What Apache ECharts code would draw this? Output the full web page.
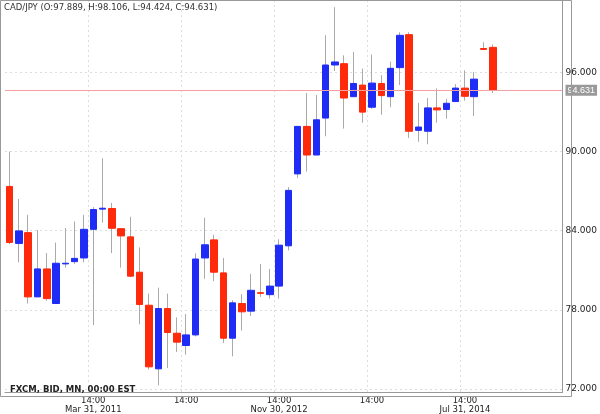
<!DOCTYPE html>
<html><head><meta charset="utf-8">
<script src="https://cdn.jsdelivr.net/npm/echarts@6/dist/echarts.min.js"></script>
<style>html,body{margin:0;padding:0;background:#fff}#c{width:600px;height:414px}</style>
</head><body><div id="c"></div>
<script>
// monthly CAD/JPY, May 2010 .. Sep 2014 : [open, close, low, high]
var ohlc = [
  [87.35,83.10,82.97,90.00],[83.03,83.98,81.60,86.40],[83.85,78.98,78.48,85.20],[78.98,81.10,78.98,84.05],
  [81.10,78.85,78.70,82.30],[78.48,81.53,78.48,83.10],[81.48,81.53,81.20,84.20],[81.65,81.90,81.48,84.70],
  [81.93,84.10,81.60,85.20],[84.10,85.60,76.85,85.78],[85.63,85.70,84.60,89.48],[85.68,84.18,82.30,86.10],
  [84.15,83.60,81.20,84.20],[83.53,80.55,80.48,85.05],[80.85,78.40,76.90,82.73],[78.35,73.68,73.48,79.23],
  [73.53,78.10,72.28,79.68],[78.10,76.28,73.60,79.23],[76.23,75.55,74.80,77.43],[75.30,76.10,74.60,77.68],
  [76.10,81.85,75.98,82.28],[81.93,82.93,80.35,84.98],[83.30,80.85,80.18,83.68],[80.80,75.85,75.48,81.93],
  [75.85,78.53,74.48,78.73],[78.48,77.85,76.43,79.18],[77.90,79.48,77.53,80.73],[79.30,79.25,78.98,81.48],
  [79.15,79.80,78.85,81.10],[79.80,82.90,78.85,83.35],[82.85,87.05,82.50,87.30],[88.30,91.90,88.00,91.90],
  [91.90,89.73,88.48,94.43],[89.73,92.40,89.73,94.28],[92.53,96.55,91.15,98.80],[96.55,96.78,96.10,100.93],
  [96.65,94.05,91.73,97.28],[94.15,95.15,94.15,97.55],[95.03,92.98,92.18,96.28],[93.35,95.18,93.23,97.35],
  [95.15,94.23,92.78,95.78],[94.15,96.30,93.35,96.80],[96.35,98.80,95.03,99.03],[98.85,91.53,91.03,99.03],
  [91.60,91.85,90.73,93.68],[91.53,93.30,90.55,94.05],[93.30,93.15,92.18,94.78],[93.18,93.65,92.48,93.98],
  [93.78,94.80,93.78,95.10],[94.80,94.18,93.85,96.15],[94.15,95.48,92.68,96.03],[97.80,97.73,97.73,98.28],
  [97.889,94.631,94.424,98.106]
];
var dateLabels = {9: 'Mar 31, 2011', 29: 'Nov 30, 2012', 49: 'Jul 31, 2014'};
var priceTicks = [72, 78, 84, 90, 96];
var lastClose = 94.631;
var nCats = 60;

var cats = [];
for (var i = 0; i < nCats; i++) cats.push(String(i));
var isTick = function (i) { return i >= 9 && i <= 55 && (i - 9) % 10 === 0; };

var wicks = ohlc.map(function (d) { return [d[2], d[3], d[2], d[3]]; });
var bodies = ohlc.map(function (d) {
  return [d[0], d[1], Math.min(d[0], d[1]), Math.max(d[0], d[1])];
});

var chart = echarts.init(document.getElementById('c'));
chart.setOption({
  animation: false,
  grid: {left: 5, right: 28, top: 0, bottom: 18, show: false},
  xAxis: {
    type: 'category', data: cats, boundaryGap: true,
    axisLine: {lineStyle: {color: '#999'}},
    axisTick: {show: false},
    axisLabel: {
      interval: function (i) { return isTick(i); },
      fontSize: 8.5, color: '#222', lineHeight: 9, margin: 4,
      fontFamily: 'DejaVu Sans',
      formatter: function (v, i) { return '14:00' + (dateLabels[i] ? '\n' + dateLabels[i] : ''); }
    },
    splitLine: {show: true, interval: function (i) { return isTick(i); },
      lineStyle: {color: '#ddd', type: [2, 3]}}
  },
  yAxis: {
    type: 'value', position: 'right', min: 71.775, max: 101.475, scale: true,
    axisLine: {show: true, lineStyle: {color: '#999'}},
    axisTick: {show: false, customValues: priceTicks},
    axisLabel: {customValues: priceTicks, fontSize: 9, color: '#222', margin: 3,
      fontFamily: 'DejaVu Sans',
      formatter: function (v) { return v.toFixed(3); }},
    splitLine: {show: true, lineStyle: {color: '#ddd', type: [2, 3]}}
  },
  series: [
    {type: 'candlestick', data: wicks, barWidth: 1, barMinWidth: 1, z: 2,
      itemStyle: {color: '#aaa', color0: '#aaa', borderColor: '#aaa', borderColor0: '#aaa', borderWidth: 1}},
    {type: 'candlestick', data: bodies, barWidth: 7, z: 3,
      itemStyle: {color: '#1f2cf5', color0: '#ff2a0a', borderColor: '#1f2cf5', borderColor0: '#ff2a0a', borderWidth: 1},
      markLine: {symbol: 'none', silent: true,
        lineStyle: {color: '#f4a0a0', type: 'solid', width: 1},
        label: {position: 'end', formatter: lastClose.toFixed(3), fontSize: 9, color: '#fff',
          backgroundColor: '#999', padding: [1, 2], distance: 3},
        data: [{yAxis: lastClose}]}}
  ],
  graphic: [
    {type: 'rect', shape: {x: 0.5, y: 0.5, width: 571, height: 396}, z: 10,
      style: {fill: 'none', stroke: '#999', lineWidth: 1}},
    {type: 'text', left: 4, top: 3, z: 11,
      style: {text: 'CAD/JPY (O:97.889, H:98.106, L:94.424, C:94.631)', fontSize: 8.5, fill: '#333', fontFamily: 'DejaVu Sans'}},
    {type: 'text', left: 10, top: 385, z: 11,
      style: {text: 'FXCM, BID, MN, 00:00 EST', fontSize: 8.5, fontWeight: 'bold', fill: '#222', fontFamily: 'DejaVu Sans'}}
  ]
});
</script></body></html>
